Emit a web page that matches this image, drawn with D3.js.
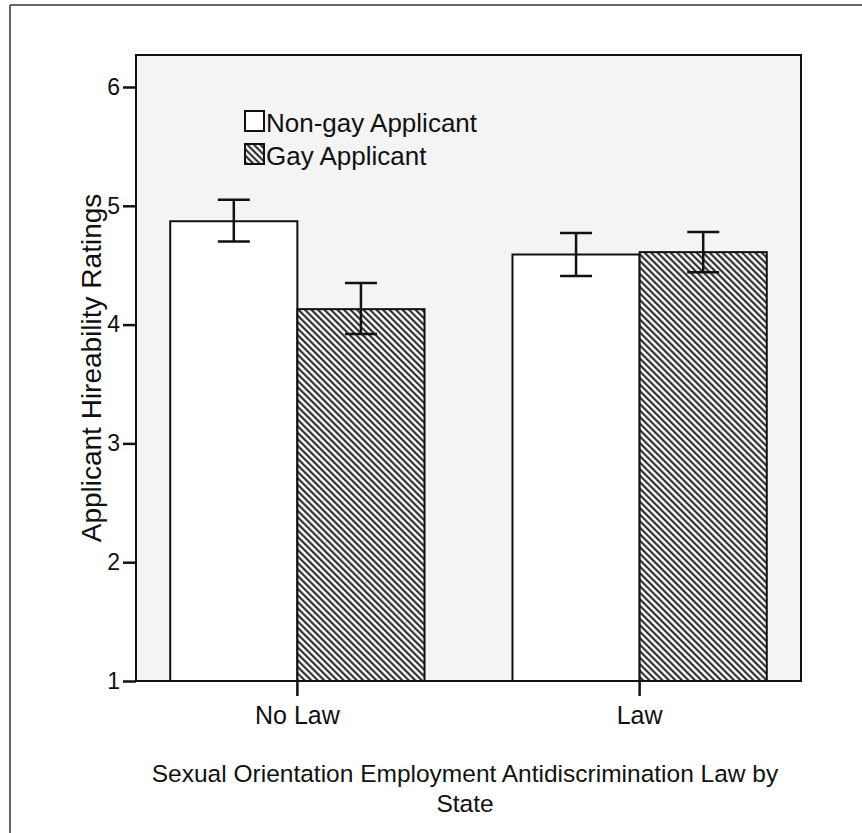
<!DOCTYPE html>
<html lang="en">
<head>
<meta charset="utf-8">
<title>Applicant Hireability Ratings</title>
<script src="https://d3js.org/d3.v7.min.js"></script>
<style>
  body { margin: 0; background: #fff; }
  text { font-family: "Liberation Sans", Arial, sans-serif; fill: #111; }
</style>
</head>
<body>
<svg id="chart" width="862" height="833"></svg>
<script>
// data
const groups = ["No Law", "Law"];
const series = ["Non-gay Applicant", "Gay Applicant"];
const nonGayMeans = [4.87, 4.59];
const nonGayLow = [4.70, 4.41];
const nonGayHigh = [5.05, 4.77];
const gayMeans = [4.13, 4.61];
const gayLow = [3.92, 4.44];
const gayHigh = [4.35, 4.78];
const yTicks = [1, 2, 3, 4, 5, 6];

const rows = [];
groups.forEach((g, i) => {
  rows.push({ group: g, series: series[0], mean: nonGayMeans[i], lo: nonGayLow[i], hi: nonGayHigh[i] });
  rows.push({ group: g, series: series[1], mean: gayMeans[i], lo: gayLow[i], hi: gayHigh[i] });
});

const svg = d3.select("#chart");
const plotL = 136, plotR = 801, plotT = 55, plotB = 681;

// hatch pattern for gay applicant
const defs = svg.append("defs");
const pat = defs.append("pattern")
  .attr("id", "hatch")
  .attr("patternUnits", "userSpaceOnUse")
  .attr("width", 4.6).attr("height", 10)
  .attr("patternTransform", "rotate(-45)");
pat.append("rect").attr("width", 4.6).attr("height", 10).attr("fill", "#fff");
pat.append("line").attr("x1", 1.2).attr("y1", 0).attr("x2", 1.2).attr("y2", 10)
  .attr("stroke", "#1a1a1a").attr("stroke-width", 2);

const fillFor = s => s === series[0] ? "#fff" : "url(#hatch)";

// outer frame (left + top only)
svg.append("line").attr("x1", 10).attr("y1", 5).attr("x2", 10).attr("y2", 833).attr("stroke", "#333").attr("stroke-width", 1.5);
svg.append("line").attr("x1", 10).attr("y1", 5).attr("x2", 862).attr("y2", 5).attr("stroke", "#333").attr("stroke-width", 1.5);

// plot background
svg.append("rect").attr("x", plotL).attr("y", plotT).attr("width", plotR - plotL).attr("height", plotB - plotT)
  .attr("fill", "#f4f4f4");

const x0 = d3.scaleBand().domain(groups).range([plotL, plotR]).paddingInner(0.257).paddingOuter(0.1);
const x1 = d3.scaleBand().domain(series).range([0, x0.bandwidth()]);
const y = d3.scaleLinear().domain([1, 6]).range([plotB, 87]);

// bars
svg.selectAll(".bar").data(rows).enter().append("rect")
  .attr("class", "bar")
  .attr("x", d => x0(d.group) + x1(d.series))
  .attr("y", d => y(d.mean))
  .attr("width", x1.bandwidth())
  .attr("height", d => y(1) - y(d.mean))
  .attr("fill", d => fillFor(d.series))
  .attr("stroke", "#111").attr("stroke-width", 2);

// error bars
const cap = 16;
const cx = d => x0(d.group) + x1(d.series) + x1.bandwidth() / 2;
svg.selectAll(".err").data(rows).enter().append("line")
  .attr("x1", cx).attr("x2", cx)
  .attr("y1", d => y(d.lo)).attr("y2", d => y(d.hi))
  .attr("stroke", "#111").attr("stroke-width", 2.5);
svg.selectAll(".capTop").data(rows).enter().append("line")
  .attr("x1", d => cx(d) - cap).attr("x2", d => cx(d) + cap)
  .attr("y1", d => y(d.hi)).attr("y2", d => y(d.hi))
  .attr("stroke", "#111").attr("stroke-width", 2.5);
svg.selectAll(".capBot").data(rows).enter().append("line")
  .attr("x1", d => cx(d) - cap).attr("x2", d => cx(d) + cap)
  .attr("y1", d => y(d.lo)).attr("y2", d => y(d.lo))
  .attr("stroke", "#111").attr("stroke-width", 2.5);

// plot frame
svg.append("rect").attr("x", plotL).attr("y", plotT).attr("width", plotR - plotL).attr("height", plotB - plotT)
  .attr("fill", "none").attr("stroke", "#111").attr("stroke-width", 2);

// y axis
const yAxis = svg.append("g").attr("transform", `translate(${plotL},0)`)
  .call(d3.axisLeft(y).tickValues(yTicks).tickFormat(d3.format("d")).tickSize(13).tickPadding(3));
yAxis.select(".domain").remove();
yAxis.selectAll("line").attr("stroke", "#111").attr("stroke-width", 2.5);
yAxis.selectAll("text").attr("font-size", 23).attr("fill", "#111");

// x axis
const xAxis = svg.append("g").attr("transform", `translate(0,${plotB})`)
  .call(d3.axisBottom(x0).tickSize(15).tickPadding(10));
xAxis.select(".domain").remove();
xAxis.selectAll("line").attr("stroke", "#111").attr("stroke-width", 2.5);
xAxis.selectAll("text").attr("font-size", 25).attr("fill", "#111");

// axis titles
svg.append("text")
  .attr("transform", `translate(101,${(plotT + plotB) / 2}) rotate(-90)`)
  .attr("text-anchor", "middle").attr("font-size", 28)
  .text("Applicant Hireability Ratings");
svg.append("text").attr("x", 465).attr("y", 782).attr("text-anchor", "middle").attr("font-size", 24.5)
  .text("Sexual Orientation Employment Antidiscrimination Law by");
svg.append("text").attr("x", 465).attr("y", 812).attr("text-anchor", "middle").attr("font-size", 24.5)
  .text("State");

// legend
const legend = svg.append("g").attr("transform", "translate(245,111)");
series.forEach((s, i) => {
  const g = legend.append("g").attr("transform", `translate(0,${i * 33})`);
  g.append("rect").attr("width", 19).attr("height", 20)
    .attr("fill", fillFor(s)).attr("stroke", "#111").attr("stroke-width", 2);
  g.append("text").attr("x", 21).attr("y", 21).attr("font-size", 26).text(s);
});
</script>
</body>
</html>
